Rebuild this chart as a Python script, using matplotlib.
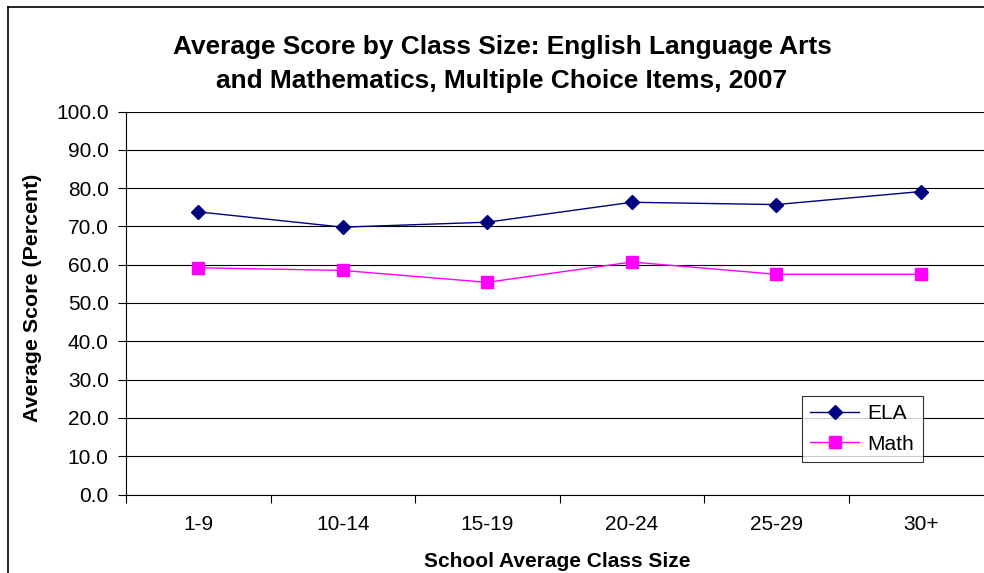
import matplotlib
matplotlib.use("Agg")
import matplotlib.pyplot as plt
from matplotlib.lines import Line2D

plt.rcParams['font.family'] = ['Liberation Sans', 'DejaVu Sans']

categories = ["1-9", "10-14", "15-19", "20-24", "25-29", "30+"]
ela = [73.8, 69.8, 71.1, 76.3, 75.7, 79.1]
math_scores = [59.2, 58.5, 55.4, 60.7, 57.5, 57.5]
y_ticks = [0, 10, 20, 30, 40, 50, 60, 70, 80, 90, 100]

W, H = 984, 573
fig = plt.figure(figsize=(W / 100, H / 100), dpi=100)
fig.patch.set_facecolor("white")

# plot area in pixel terms (right edge runs past the canvas)
left, right, top, bottom = 126, 993, 111.5, 494.5
ax = fig.add_axes([left / W, (H - bottom) / H, (right - left) / W, (bottom - top) / H])

x = list(range(len(categories)))
ax.plot(x, ela, color="#000080", lw=1.0, marker="D", ms=7.2,
        markerfacecolor="#000080", markeredgecolor="#000080", label="ELA", zorder=3)
ax.plot(x, math_scores, color="#FF00FF", lw=1.0, marker="s", ms=8.8,
        markerfacecolor="#FF00FF", markeredgecolor="#FF00FF", label="Math", zorder=3)

ax.set_xlim(-0.5, len(categories) - 0.5)
ax.set_ylim(0, 100)
ax.set_yticks(y_ticks)
ax.set_yticklabels([f"{v:.1f}" for v in y_ticks])
ax.yaxis.grid(True, color="black", lw=0.8)
ax.set_axisbelow(True)

# category boundaries carry the tick marks, labels sit at the centres
ax.set_xticks([i - 0.5 for i in range(len(categories) + 1)])
ax.set_xticklabels([])
ax.set_xticks(x, minor=True)
ax.set_xticklabels(categories, minor=True)
ax.tick_params(axis="x", which="major", direction="out", length=6, width=0.8, color="black")
ax.tick_params(axis="x", which="minor", length=0, pad=15, labelsize=15)
ax.tick_params(axis="y", direction="out", length=5.5, width=0.8, labelsize=15, pad=7)

for side in ("top", "right"):
    ax.spines[side].set_visible(False)
ax.spines["left"].set_linewidth(0.8)
ax.spines["bottom"].set_linewidth(0.8)

# axis titles
fig.text(557 / W, 1 - 567 / H, "School Average Class Size",
         ha="center", va="baseline", fontsize=15, fontweight="bold")
fig.text(33 / W, 1 - 297.5 / H, "Average Score (Percent)", rotation=90,
         ha="center", va="center", fontsize=15.4, fontweight="bold")

fig.text(502 / W, 1 - 64 / H,
         "Average Score by Class Size: English Language Arts\nand Mathematics, Multiple Choice Items, 2007",
         ha="center", va="center", fontsize=18.9, fontweight="bold", linespacing=1.5)

leg = ax.legend(loc="upper left", bbox_to_anchor=((802 - left) / (right - left), (bottom - 396) / (bottom - top)),
                borderaxespad=0, fontsize=15, frameon=True, fancybox=False, shadow=False,
                handlelength=2.35, handletextpad=0.4, borderpad=0.4, labelspacing=0.55)
leg.get_frame().set_edgecolor("black")
leg.get_frame().set_linewidth(0.8)

# outer chart frame (left and top edges visible)
fig.add_artist(Line2D([7.5 / W, 7.5 / W], [0, 1 - 6.5 / H], transform=fig.transFigure, color="black", lw=1.2))
fig.add_artist(Line2D([7.5 / W, 1], [1 - 6.5 / H, 1 - 6.5 / H], transform=fig.transFigure, color="black", lw=1.2))

fig.savefig("out.png", dpi=100, facecolor="white")
